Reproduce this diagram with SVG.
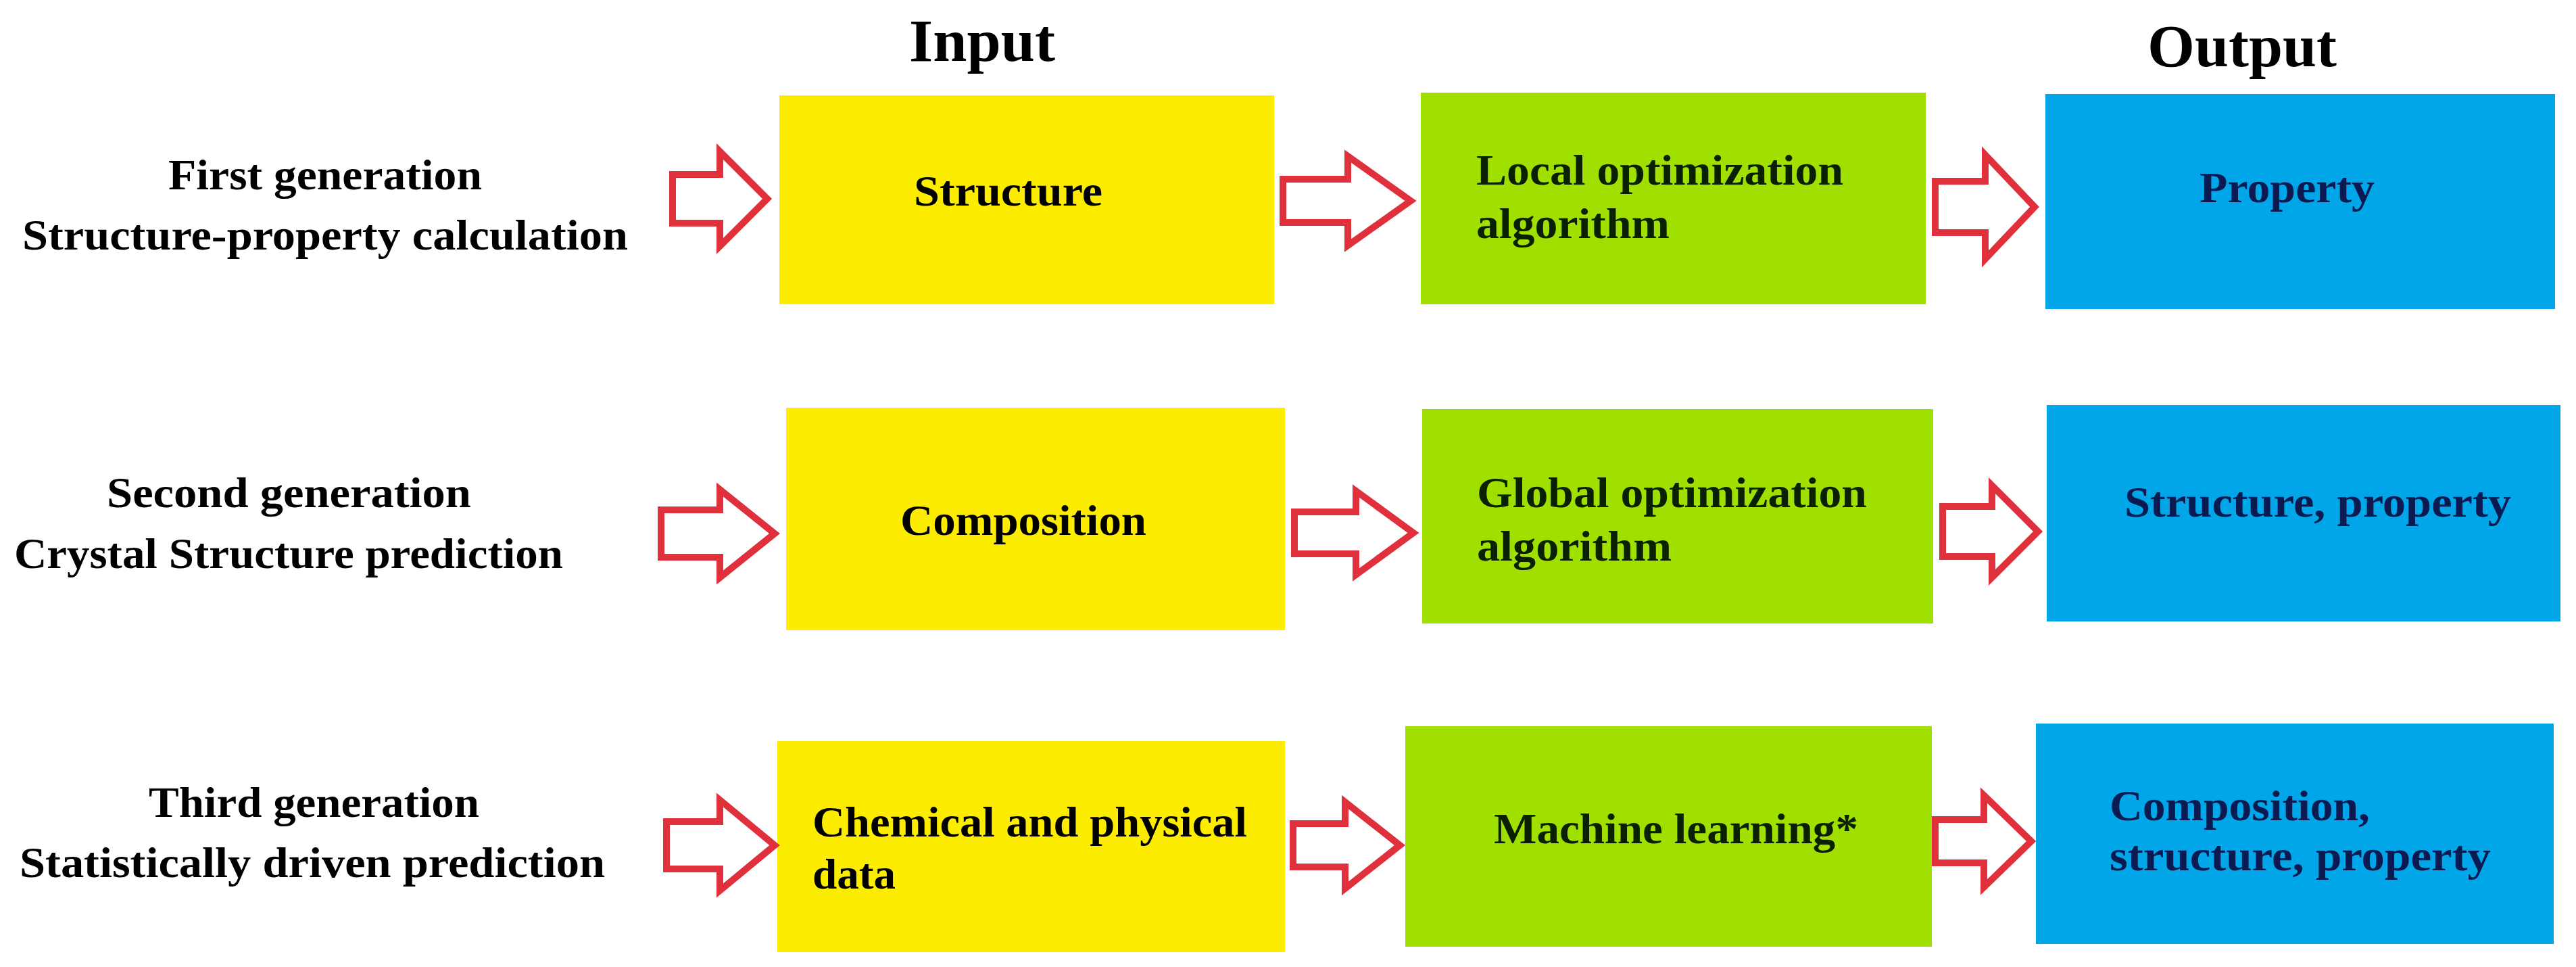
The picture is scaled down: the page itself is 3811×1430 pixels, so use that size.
<svg xmlns="http://www.w3.org/2000/svg" width="3811" height="1430" viewBox="0 0 3811 1430">
<style>
.bg{fill:#ffffff}
.yel{fill:#fcec00}
.grn{fill:#a0e000}
.blu{fill:#00a6e8}
.arr{fill:#ffffff;stroke:#e0303c;stroke-width:10;stroke-linejoin:miter}
text{font-family:"Liberation Serif","Times New Roman",serif;font-weight:bold;font-size:64px}
.hdr{font-size:88px;fill:#000}
.lbl{fill:#000}
.ty{fill:#000}
.tg{fill:#0b2000}
.tb{fill:#0b1a50}
</style>
<rect class="bg" x="0" y="0" width="3811" height="1430"/>

<g id="headers">
<text class="hdr" x="1345" y="90" textLength="216" lengthAdjust="spacingAndGlyphs">Input</text>
<text class="hdr" x="3177" y="98" textLength="280" lengthAdjust="spacingAndGlyphs">Output</text>
</g>

<g id="label-gen1">
<text class="lbl" x="249" y="280" textLength="464" lengthAdjust="spacingAndGlyphs">First generation</text>
<text class="lbl" x="33" y="369" textLength="896" lengthAdjust="spacingAndGlyphs">Structure-property calculation</text>
</g>
<g id="label-gen2">
<text class="lbl" x="158" y="750" textLength="539" lengthAdjust="spacingAndGlyphs">Second generation</text>
<text class="lbl" x="21" y="840" textLength="812" lengthAdjust="spacingAndGlyphs">Crystal Structure prediction</text>
</g>
<g id="label-gen3">
<text class="lbl" x="220" y="1208" textLength="489" lengthAdjust="spacingAndGlyphs">Third generation</text>
<text class="lbl" x="29" y="1297" textLength="866" lengthAdjust="spacingAndGlyphs">Statistically driven prediction</text>
</g>

<g id="box-structure">
<rect class="yel" x="1153" y="141" width="732" height="309"/>
<text class="ty" x="1352" y="304" textLength="279" lengthAdjust="spacingAndGlyphs">Structure</text>
</g>
<g id="box-local-opt">
<rect class="grn" x="2102" y="137" width="747" height="313"/>
<text class="tg" x="2184" y="273" textLength="543" lengthAdjust="spacingAndGlyphs">Local optimization</text>
<text class="tg" x="2184" y="352" textLength="286" lengthAdjust="spacingAndGlyphs">algorithm</text>
</g>
<g id="box-property">
<rect class="blu" x="3026" y="139" width="754" height="318"/>
<text class="tb" x="3254" y="299" textLength="259" lengthAdjust="spacingAndGlyphs">Property</text>
</g>

<g id="box-composition">
<rect class="yel" x="1163" y="603" width="738" height="329"/>
<text class="ty" x="1332" y="791" textLength="364" lengthAdjust="spacingAndGlyphs">Composition</text>
</g>
<g id="box-global-opt">
<rect class="grn" x="2104" y="605" width="756" height="317"/>
<text class="tg" x="2185" y="750" textLength="577" lengthAdjust="spacingAndGlyphs">Global optimization</text>
<text class="tg" x="2185" y="829" textLength="288" lengthAdjust="spacingAndGlyphs">algorithm</text>
</g>
<g id="box-structure-property">
<rect class="blu" x="3028" y="599" width="760" height="320"/>
<text class="tb" x="3143" y="764" textLength="572" lengthAdjust="spacingAndGlyphs">Structure, property</text>
</g>

<g id="box-chem-data">
<rect class="yel" x="1150" y="1096" width="751" height="312"/>
<text class="ty" x="1202" y="1237" textLength="643" lengthAdjust="spacingAndGlyphs">Chemical and physical</text>
<text class="ty" x="1202" y="1314" textLength="123" lengthAdjust="spacingAndGlyphs">data</text>
</g>
<g id="box-ml">
<rect class="grn" x="2079" y="1074" width="779" height="326"/>
<text class="tg" x="2210" y="1247" textLength="539" lengthAdjust="spacingAndGlyphs">Machine learning*</text>
</g>
<g id="box-comp-struct-prop">
<rect class="blu" x="3012" y="1070" width="766" height="326"/>
<text class="tb" x="3121" y="1213" textLength="385" lengthAdjust="spacingAndGlyphs">Composition,</text>
<text class="tb" x="3121" y="1287" textLength="564" lengthAdjust="spacingAndGlyphs">structure, property</text>
</g>

<g id="connectors">
<path class="arr" d="M995,258 L1065,258 L1065,224 L1135,294 L1065,364 L1065,330 L995,330 Z"/>
<path class="arr" d="M1898,265 L1994,265 L1994,231 L2087,297 L1994,363 L1994,329 L1898,329 Z"/>
<path class="arr" d="M2863,268 L2937,268 L2937,229 L3010,306 L2937,383 L2937,344 L2863,344 Z"/>
<path class="arr" d="M978,754 L1065,754 L1065,724 L1146,789 L1065,854 L1065,824 L978,824 Z"/>
<path class="arr" d="M1915,757 L2006,757 L2006,726 L2091,788 L2006,850 L2006,819 L1915,819 Z"/>
<path class="arr" d="M2874,749 L2947,749 L2947,718 L3015,786 L2947,854 L2947,823 L2874,823 Z"/>
<path class="arr" d="M986,1215 L1065,1215 L1065,1183 L1146,1250 L1065,1317 L1065,1285 L986,1285 Z"/>
<path class="arr" d="M1913,1218 L1990,1218 L1990,1186 L2071,1250 L1990,1314 L1990,1282 L1913,1282 Z"/>
<path class="arr" d="M2863,1212 L2935,1212 L2935,1176 L3005,1244 L2935,1312 L2935,1276 L2863,1276 Z"/>
</g>
</svg>
